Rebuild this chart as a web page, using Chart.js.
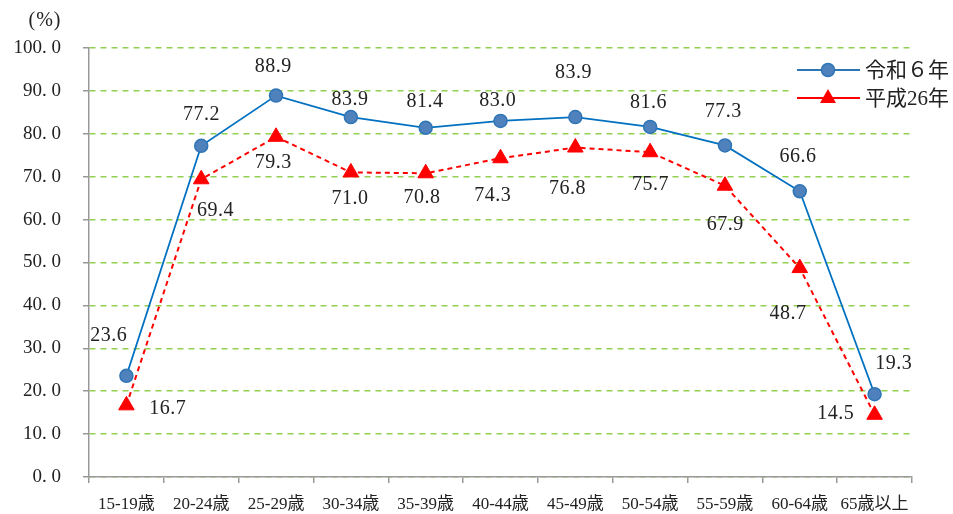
<!DOCTYPE html>
<html><head><meta charset="utf-8">
<script src="https://cdn.jsdelivr.net/npm/chart.js@4/dist/chart.umd.min.js"></script>
<style>html,body{margin:0;padding:0;background:#fff}canvas{display:block}</style>
</head><body>
<canvas id="c" width="953" height="514"></canvas>
<script>
const categories = ["15-19歳","20-24歳","25-29歳","30-34歳","35-39歳","40-44歳","45-49歳","50-54歳","55-59歳","60-64歳","65歳以上"];
const reiwa6 = [23.6, 77.2, 88.9, 83.9, 81.4, 83.0, 83.9, 81.6, 77.3, 66.6, 19.3];
const heisei26 = [16.7, 69.4, 79.3, 71.0, 70.8, 74.3, 76.8, 75.7, 67.9, 48.7, 14.5];
const seriesNames = ["令和６年", "平成26年"];
const yTickLabels = ["0. 0","10. 0","20. 0","30. 0","40. 0","50. 0","60. 0","70. 0","80. 0","90. 0","100. 0"];

const SERIF = '"Liberation Serif","DejaVu Serif","Noto Sans CJK JP",serif';
// label offsets (px) relative to each point
const offR = [[-18,-41],[0,-32],[-3,-30],[-1,-18],[-1,-27],[-3,-21],[-2,-45],[-2,-25],[-2,-35],[-2,-36],[19,-31]];
const offH = [[41,2],[14,30],[-3,25],[-1,25],[-4,23],[-8,36],[-8,40],[0,32],[0,38],[-12,45],[-39,-2]];

const labelPlugin = {
  id:'labels',
  afterDatasetsDraw(chart){
    const ctx = chart.ctx;
    ctx.save();
    ctx.font = '20px ' + SERIF;
    ctx.letterSpacing = '0.5px';
    ctx.fillStyle = '#222';
    ctx.textAlign = 'center';
    ctx.textBaseline = 'middle';
    [[0,reiwa6,offR],[1,heisei26,offH]].forEach(([di,vals,off])=>{
      const meta = chart.getDatasetMeta(di);
      meta.data.forEach((pt,i)=>{
        ctx.fillText(vals[i].toFixed(1), pt.x+off[i][0]+0.25, pt.y+off[i][1]+1);
      });
    });
    // y title
    ctx.letterSpacing = '1px';
    ctx.font = '20px ' + SERIF;
    ctx.fillText('(%)', 45, 21);
    ctx.letterSpacing = '0px';
    // legend
    ctx.fillStyle = '#fff';
    ctx.fillRect(793, 55, 160, 60);
    const lx = 797, items = [[70,'#2E75B6','#4F81BD','circle'],[98,'#FF0000','#FF0000','triangle']];
    items.forEach((it,k)=>{
      const [y,lc,fc,shape] = it;
      ctx.strokeStyle = lc; ctx.lineWidth = 2; ctx.setLineDash([]);
      ctx.beginPath(); ctx.moveTo(lx,y); ctx.lineTo(lx+63,y); ctx.stroke();
      ctx.fillStyle = fc;
      ctx.beginPath();
      if(shape==='circle'){ ctx.arc(lx+31,y,6.5,0,Math.PI*2); ctx.fill(); ctx.strokeStyle='#2E75B6'; ctx.lineWidth=1.5; ctx.stroke(); }
      else { ctx.moveTo(lx+31,y-9); ctx.lineTo(lx+39,y+5); ctx.lineTo(lx+23,y+5); ctx.closePath(); ctx.fill(); }
      ctx.fillStyle = '#222';
      ctx.textAlign = 'left';
      ctx.font = '21px ' + SERIF;
      ctx.fillText(seriesNames[k], lx+68, y+1);
    });
    ctx.restore();
  }
};

new Chart(document.getElementById('c'), {
  type:'line',
  data:{
    labels:categories,
    datasets:[
      {label:seriesNames[0], data:reiwa6, borderColor:'#0070C0', borderWidth:1.8,
       pointStyle:'circle', pointRadius:6.5, pointBackgroundColor:'#4F81BD', pointBorderColor:'#2E75B6', pointBorderWidth:1.5, tension:0},
      {label:seriesNames[1], data:heisei26, borderColor:'#FF0000', borderWidth:2, borderDash:[5,4],
       pointStyle:'triangle', pointRadius:9, pointBackgroundColor:'#FF0000', pointBorderColor:'#FF0000', pointBorderWidth:1, tension:0}
    ]
  },
  options:{
    responsive:false, animation:false, devicePixelRatio:1,
    layout:{padding:{left:0, right:41, top:48, bottom:0}},
    plugins:{legend:{display:false}, tooltip:{enabled:false}},
    scales:{
      x:{
        offset:true,
        grid:{offset:true, drawOnChartArea:false, drawTicks:true, tickLength:6, color:'#999', lineWidth:1.5},
        border:{color:'#999', width:1.5},
        ticks:{color:'#222', font:{family:SERIF, size:17}, maxRotation:0, autoSkip:false, padding:11},
        afterFit(s){ s.height = 37; }
      },
      y:{
        min:0, max:100,
        ticks:{stepSize:10, color:'#222', font:{family:SERIF, size:19}, padding:22,
          callback:(v)=> yTickLabels[Math.round(v/10)]},
        grid:{color:'#92D050', lineWidth:1.5, tickColor:'#999', tickLength:6},
        border:{color:'#999', width:1.5, dash:[6,5]},
        afterFit(s){ s.width = 89; }
      }
    }
  },
  plugins:[labelPlugin]
});
</script>
</body></html>
